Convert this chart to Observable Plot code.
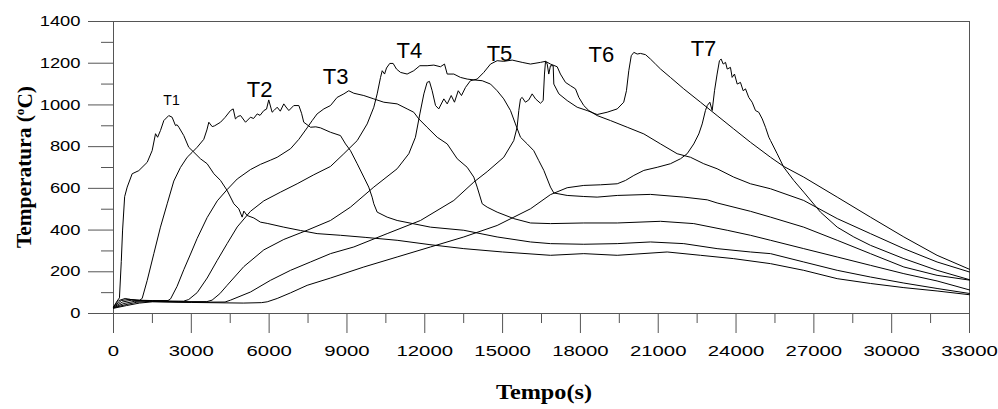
<!DOCTYPE html>
<html><head><meta charset="utf-8">
<script src="https://cdn.jsdelivr.net/npm/d3@7"></script>
<script src="https://cdn.jsdelivr.net/npm/@observablehq/plot@0.6"></script>
<style>html,body{margin:0;padding:0;background:#fff;}</style>
</head><body><div id="chart"></div>
<script>
const seriesNames = ["T1","T2","T3","T4","T5","T6","T7"];

// [time (s), temperature (°C)]
const T1 = [[0,30],[140,60],[230,75],[300,250],[350,400],[430,560],[528,606],[720,670],[975,685],[1300,725],[1490,781],[1620,862],[1700,845],[1810,877],[1940,925],[2130,949],[2260,941],[2390,901],[2450,905],[2520,893],[2710,853],[2900,797],[3100,773],[3350,742],[3610,718],[3870,670],[4125,638],[4380,590],[4640,526],[4830,502],[4960,462],[5025,491],[5150,470],[5410,458],[5665,438],[5925,432],[6565,414],[7210,398],[7850,383],[8750,375],[9700,365],[10935,351],[12200,330],[13505,311],[15000,295],[16846,279],[18130,287],[19420,279],[21345,295],[22630,279],[23910,263],[25330,239],[26610,207],[27900,167],[29180,144],[30470,124],[31750,108],[33000,90]];
const T2 = [[0,33],[200,62],[450,72],[700,66],[1000,63],[1105,72],[1300,159],[1555,287],[1810,414],[2070,526],[2325,635],[2580,700],[2840,749],[3035,773],[3225,797],[3480,835],[3600,880],[3675,917],[3805,896],[3900,900],[4125,917],[4300,940],[4510,973],[4615,981],[4700,933],[4800,945],[4900,949],[5090,917],[5280,941],[5400,935],[5540,957],[5650,950],[5795,973],[5900,980],[5985,1024],[6115,965],[6200,975],[6310,989],[6430,970],[6565,1005],[6650,990],[6760,973],[6950,997],[7145,997],[7250,960],[7335,917],[7595,893],[7800,895],[7980,890],[8365,869],[8750,853],[8945,813],[9135,781],[9395,718],[9650,654],[9840,606],[9970,558],[10035,526],[10165,486],[10550,462],[10935,446],[12220,414],[13505,399],[14790,367],[16075,343],[16846,335],[18130,332],[19420,335],[20700,343],[21985,335],[23270,311],[24555,295],[25330,287],[26610,247],[27900,207],[29180,175],[30470,146],[31750,120],[33000,96]];
const T3 = [[0,32],[300,62],[600,68],[900,64],[1500,62],[2100,62],[2200,70],[2450,130],[2710,210],[2970,285],[3225,360],[3610,460],[4000,540],[4380,594],[4770,645],[5280,690],[5665,715],[6050,735],[6310,749],[6825,790],[7145,835],[7465,890],[7660,925],[7850,957],[8110,981],[8365,997],[8620,1036],[8880,1053],[9070,1068],[9265,1056],[9650,1045],[10035,1029],[10420,1013],[10935,1005],[11320,981],[11575,965],[11770,933],[12090,893],[12480,845],[12865,813],[13250,742],[13635,701],[13890,654],[14020,606],[14215,526],[14405,510],[14790,486],[15430,455],[16075,434],[16846,431],[18130,434],[19420,434],[21090,442],[22370,431],[23660,399],[24555,375],[25330,351],[26610,311],[27900,271],[29180,231],[30470,191],[31750,156],[33000,113]];
const T4 = [[0,30],[350,55],[700,64],[1100,62],[2000,60],[2700,59],[2900,67],[3225,100],[3610,170],[4000,255],[4380,335],[4770,415],[5280,490],[5795,540],[6440,582],[7080,622],[7720,665],[8365,705],[8880,766],[9395,829],[9780,909],[10035,989],[10165,1053],[10295,1132],[10360,1164],[10450,1148],[10525,1177],[10650,1199],[10780,1199],[10910,1172],[11065,1156],[11320,1148],[11575,1164],[11810,1188],[12090,1188],[12350,1191],[12605,1183],[12760,1196],[12865,1148],[13120,1148],[13375,1132],[13635,1124],[13890,1120],[14215,1116],[14535,1100],[14790,1068],[15045,1029],[15305,973],[15495,909],[15690,845],[15950,813],[16200,781],[16395,733],[16590,686],[16846,606],[16975,578],[17490,566],[18130,561],[18645,558],[19420,566],[20700,571],[21985,558],[22890,545],[23270,530],[24555,490],[25330,462],[26610,414],[27900,351],[29180,287],[30470,223],[31750,183],[33000,160]];
const T5 = [[0,28],[400,48],[800,58],[1200,60],[2500,57],[3600,57],[3800,64],[4100,95],[4380,135],[5025,225],[5795,305],[6565,355],[7465,399],[8365,446],[9135,510],[10035,606],[10935,694],[11385,766],[11640,845],[11810,957],[11965,1053],[12090,1108],[12180,1113],[12285,1068],[12415,997],[12540,981],[12735,1029],[12865,1005],[13020,1045],[13145,1013],[13290,1068],[13415,1045],[13570,1084],[13760,1116],[14020,1124],[14275,1156],[14535,1196],[14790,1212],[15045,1209],[15370,1215],[15755,1204],[16075,1196],[16460,1204],[16655,1209],[16846,1196],[17105,1183],[17230,1148],[17425,1108],[17620,1092],[17810,1077],[17940,1036],[18130,997],[18325,973],[18645,949],[19160,925],[19805,893],[20445,861],[21090,813],[21730,766],[22245,749],[22755,718],[23270,694],[23910,654],[24555,622],[25330,598],[26610,542],[27900,455],[29180,383],[30470,311],[31750,247],[33000,199]];
const T6 = [[0,27],[450,42],[900,54],[1400,58],[3000,54],[4300,55],[4510,64],[5280,103],[6050,159],[6825,207],[7595,247],[8365,287],[9265,319],[10550,383],[11835,446],[13120,542],[13890,630],[14405,680],[15045,749],[15430,829],[15560,893],[15625,973],[15690,1029],[15755,1036],[15880,1013],[16010,1024],[16140,1053],[16270,1029],[16460,1008],[16565,1021],[16615,1148],[16655,1209],[16720,1196],[16780,1148],[16846,1188],[16950,1188],[16975,1100],[17170,1053],[17490,1021],[17875,989],[18260,973],[18645,954],[19030,965],[19420,981],[19670,1013],[19775,1068],[19865,1164],[19960,1236],[20060,1252],[20190,1244],[20315,1247],[20510,1241],[20700,1220],[20895,1196],[21090,1172],[21470,1132],[21985,1077],[22630,1013],[23270,949],[23910,885],[24555,821],[25330,749],[25840,705],[26610,654],[27900,558],[29180,462],[30470,367],[31750,279],[33000,212]];
const T7 = [[0,25],[500,38],[1000,50],[1500,56],[3000,53],[5000,50],[5700,52],[5925,56],[6310,72],[6825,99],[7465,135],[8365,170],[9650,223],[10935,271],[12220,319],[13505,367],[14790,422],[16075,502],[16846,570],[17490,603],[18130,614],[18775,617],[19420,622],[19740,638],[20060,662],[20445,686],[20960,701],[21470,718],[21860,742],[22115,766],[22370,813],[22565,861],[22695,909],[22820,973],[22890,997],[22990,1013],[23080,973],[23170,1068],[23270,1148],[23360,1212],[23425,1220],[23505,1196],[23595,1204],[23660,1172],[23785,1180],[23850,1132],[23940,1148],[24045,1100],[24170,1108],[24275,1068],[24365,1077],[24490,1036],[24620,1013],[24750,973],[24875,965],[25010,933],[25135,893],[25265,845],[25330,829],[25585,766],[25840,701],[26225,638],[26610,582],[27255,486],[27900,414],[28540,367],[29180,327],[30470,263],[31750,207],[33000,162]];

const xTicks = [0,3000,6000,9000,12000,15000,18000,21000,24000,27000,30000,33000];
const xMinorTicks = [1500,4500,7500,10500,13500,16500,19500,22500,25500,28500,31500];
const yTicks = [0,200,400,600,800,1000,1200,1400];
const yMinorTicks = [100,300,500,700,900,1100,1300];

// label anchor (data units)
const labelTime = [2236,5630,8560,11410,14880,18810,22745];
const labelTemp = [1020,1073,1133,1260,1245,1241,1270];

const allSeries = [T1,T2,T3,T4,T5,T6,T7];
const rows = allSeries.flatMap((pts,i)=>pts.map(([t,T])=>({series: seriesNames[i], t, T})));
const labels = seriesNames.map((name,i)=>({name, t: labelTime[i], T: labelTemp[i]}));

const axisColor = "#555";
const chart = Plot.plot({
  width: 998, height: 409,
  marginLeft: 113, marginRight: 29, marginTop: 21, marginBottom: 96,
  x: {domain: [0,33000]},
  y: {domain: [0,1400]},
  style: {fontFamily: "'Liberation Sans', Arial, sans-serif", fontSize: "14px", color: "#000", background: "#fff", overflow: "visible"},
  marks: [
    Plot.axisY(yMinorTicks, {tickSize: 12, fill: "none", label: null, stroke: axisColor}),
    Plot.axisY(yTicks, {tickSize: 25, tickPadding: 8, tickFormat: d => String(d), label: null, stroke: axisColor, fontSize: 14.5}),
    Plot.axisX(xMinorTicks, {tickSize: 10, fill: "none", label: null, stroke: axisColor}),
    Plot.axisX(xTicks, {tickSize: 20, tickPadding: 11, tickFormat: d => String(d), label: null, stroke: axisColor, fontSize: 15.5}),
    Plot.frame({stroke: axisColor}),
    Plot.line(rows, {x: "t", y: "T", z: "series", stroke: "#000", strokeWidth: 1}),
    Plot.text(labels.slice(0,1), {x: "t", y: "T", text: "name", fontSize: 14, fill: "#000"}),
    Plot.text(labels.slice(1), {x: "t", y: "T", text: "name", fontSize: 22, fill: "#000"})
  ]
});

const svg = d3.select(chart);
svg.selectAll('[aria-label="y-axis tick label"] text').each(function(){
  const s = this.textContent; if (s) { this.setAttribute("textLength", s.length*10.2); this.setAttribute("lengthAdjust","spacingAndGlyphs"); }
});
svg.selectAll('[aria-label="x-axis tick label"] text').each(function(){
  const s = this.textContent; if (s) { this.setAttribute("textLength", s.length*11.3); this.setAttribute("lengthAdjust","spacingAndGlyphs"); }
});

const xr = chart.scale("x").range, yr = chart.scale("y").range;
const titleFont = "'Liberation Serif', 'Times New Roman', serif";
const yt = svg.append("text")
  .attr("transform", `translate(24,${(yr[0]+yr[1])/2}) rotate(-90)`)
  .attr("text-anchor","middle").attr("dy","0.35em")
  .attr("textLength",162).attr("lengthAdjust","spacingAndGlyphs")
  .attr("font-family", titleFont).attr("font-weight","bold").attr("font-size",21).attr("fill","#000");
yt.append("tspan").text("Temperatura (");
yt.append("tspan").attr("font-size",13).attr("dy","-0.6em").text("o");
yt.append("tspan").attr("dy","0.4em").text("C)");
svg.append("text")
  .attr("x",(xr[0]+xr[1])/2+3).attr("y",399)
  .attr("text-anchor","middle")
  .attr("textLength",96).attr("lengthAdjust","spacingAndGlyphs")
  .attr("font-family", titleFont).attr("font-weight","bold").attr("font-size",20).attr("fill","#000")
  .text("Tempo(s)");

document.getElementById("chart").append(chart);
</script>
</body></html>
